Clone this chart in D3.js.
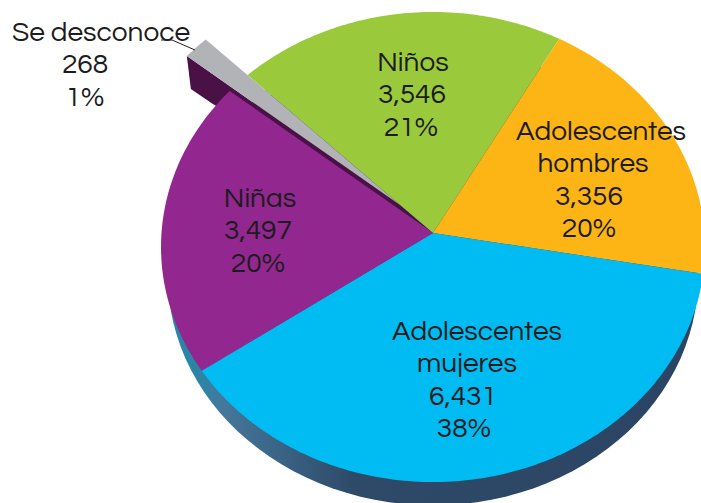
<!DOCTYPE html>
<html>
<head>
<meta charset="utf-8">
<script src="https://cdn.jsdelivr.net/npm/d3@7"></script>
<style>
html, body { margin: 0; padding: 0; background: #fff; }
svg { display: block; }
text { font-family: "Questrial", "Inter", "Noto Sans", sans-serif; font-size: 28px; fill: #1c1c1c; text-anchor: middle; }
</style>
</head>
<body>
<svg class="chart" width="701" height="503"></svg>
<script>
// order goes clockwise, starting from the grey wedge
const categories = ["Se desconoce", "Niños", "Adolescentes hombres", "Adolescentes mujeres", "Niñas"];
const values = [268, 3546, 3356, 6431, 3497];
const percents = ["1%", "21%", "20%", "38%", "20%"];
const colors = ["#b1b3b6", "#9aca3c", "#fdb515", "#00bcf2", "#92278f"];

const svg = d3.select("svg.chart");

// projection of the flat disc, k gives the perspective
const apex = [433, 233];
const a = 271.5, b = 234.2, k = 0.0596;
function project(t, r, dx, dy) {
    const x = Math.sin(t) * r, y = -Math.cos(t) * r;
    const w = 1 - k * y;
    return [apex[0] + (dx || 0) + a * x / w, apex[1] + (dy || 0) + b * y / w];
}

const start = -51 * Math.PI / 180;
const pie = d3.pie().sort(null).startAngle(start).endAngle(start + 2 * Math.PI);
const arcs = pie(values);
const line = d3.line();

function slice_points(d, r, dx, dy) {
    const n = Math.max(2, Math.ceil((d.endAngle - d.startAngle) * 60));
    const rim = d3.range(n + 1).map(i => {
        const t = d.startAngle + (d.endAngle - d.startAngle) * i / n;
        return project(t, r, dx, dy);
    });
    return [[apex[0] + (dx || 0), apex[1] + (dy || 0)]].concat(rim);
}

const defs = svg.append("defs");
const side = defs.append("linearGradient").attr("id", "side")
    .attr("x1", 0).attr("x2", 1).attr("y1", 0).attr("y2", 0);
side.append("stop").attr("offset", "0.06").attr("stop-color", "#2b86a6");
side.append("stop").attr("offset", "0.1").attr("stop-color", "#44789c");
side.append("stop").attr("offset", "0.35").attr("stop-color", "#2e4a68");
side.append("stop").attr("offset", "1").attr("stop-color", "#2c4463");

// wall under the disc
const depth = 30;
svg.append("path")
    .attr("d", line(d3.range(0, 121).map(i => project(i / 120 * 2 * Math.PI, 0.975, 0, depth))) + "Z")
    .attr("fill", "url(#side)");

// exploded wedge
const off = [-33, -28];
const gp = slice_points(arcs[0], 1.05, off[0], off[1]);
svg.append("path")
    .attr("d", line([
        gp[1],
        [gp[1][0] + 4, gp[1][1] + 33],
        [gp[1][0] + 26, gp[1][1] + 48],
        gp[0]
    ]) + "Z")
    .attr("fill", "#4a1147");

// the notch the wedge left behind
svg.append("path")
    .attr("d", line(slice_points(arcs[0], 0.9)) + "Z")
    .attr("fill", "#4a1147");

svg.selectAll("path.slice")
    .data(arcs.slice(1))
    .enter().append("path")
        .attr("class", "slice")
        .attr("d", d => line(slice_points(d, 1)) + "Z")
        .attr("fill", d => colors[d.index]);

svg.append("path")
    .attr("d", line(gp) + "Z")
    .attr("fill", colors[0]);

// labels, one line per tspan
const label_lines = [
    ["Se desconoce", "268", "1%"],
    ["Niños", "3,546", "21%"],
    ["Adolescentes", "hombres", "3,356", "20%"],
    ["Adolescentes", "mujeres", "6,431", "38%"],
    ["Niñas", "3,497", "20%"]
];
const label_x = [[101, 85, 85], [413, 412, 411], [601, 593, 589, 589], [477, 467, 463, 464], [260, 258, 258]];
const label_y = [41, 71, 140, 340, 207];
const label_step = 32.3;

svg.selectAll("text.label")
    .data(label_lines)
    .enter().append("text")
        .attr("class", "label")
        .each(function(d, i) {
            d3.select(this).selectAll("tspan")
                .data(d)
                .enter().append("tspan")
                    .attr("x", (l, j) => label_x[i][j])
                    .attr("y", (l, j) => label_y[i] + j * label_step)
                    .text(l => l);
        });

// leader line of the small wedge
svg.append("path")
    .attr("d", "M161,40L172,40L195,50")
    .attr("fill", "none")
    .attr("stroke", "#222")
    .attr("stroke-width", 1);
</script>
</body>
</html>
